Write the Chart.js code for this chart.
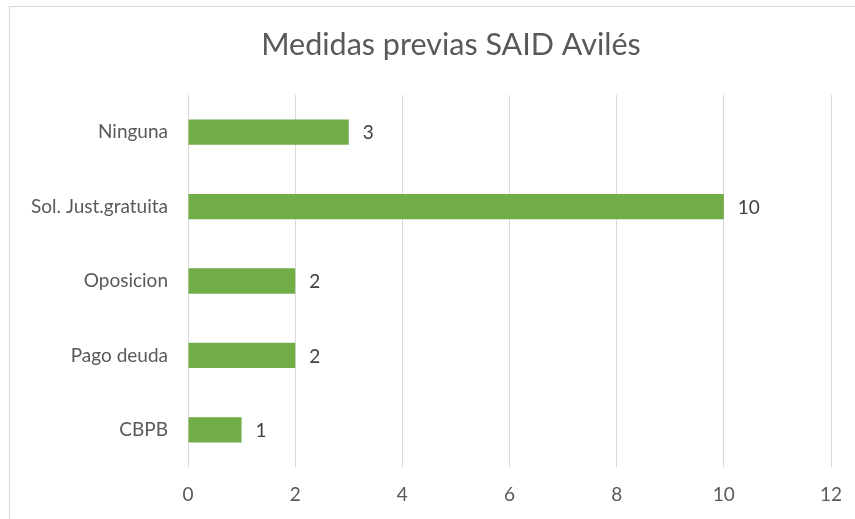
<!DOCTYPE html>
<html>
<head>
<meta charset="utf-8">
<script src="https://cdn.jsdelivr.net/npm/chart.js@4"></script>
<style>
  html, body { margin: 0; padding: 0; background: #fff; overflow: hidden; }
  #wrap { position: relative; width: 855px; height: 519px; }
  #frame { position: absolute; left: 9px; top: 6px; width: 900px; height: 600px; border: 1px solid #d9d9d9; box-sizing: border-box; }
  canvas { position: absolute; left: 0; top: 0; }
</style>
</head>
<body>
<div id="wrap">
  <div id="frame"></div>
  <canvas id="c" width="855" height="519"></canvas>
</div>
<script>
const titleText = "Medidas previas SAID Avilés";
const categories = ["Ninguna", "Sol. Just.gratuita", "Oposicion", "Pago deuda", "CBPB"];
const values = [3, 10, 2, 2, 1];
const xTicks = [0, 2, 4, 6, 8, 10, 12];

const FONT = "Lato, 'Open Sans', sans-serif";

const valueLabels = {
  id: 'valueLabels',
  afterDatasetsDraw(chart) {
    const ctx = chart.ctx;
    const meta = chart.getDatasetMeta(0);
    ctx.save();
    ctx.font = "19px " + FONT;
    ctx.fillStyle = "#404040";
    ctx.textAlign = "left";
    ctx.textBaseline = "middle";
    meta.data.forEach((bar, i) => {
      ctx.fillText(String(values[i]), bar.x + 14, bar.y + 1);
    });
    ctx.restore();
  }
};

const chartTitle = {
  id: 'chartTitle',
  afterDraw(chart) {
    const ctx = chart.ctx;
    ctx.save();
    ctx.font = "30.5px " + FONT;
    ctx.fillStyle = "#595959";
    ctx.textAlign = "center";
    ctx.textBaseline = "middle";
    ctx.fillText(titleText, 451, 45);
    ctx.restore();
  }
};

new Chart(document.getElementById('c'), {
  type: 'bar',
  data: {
    labels: categories,
    datasets: [{
      data: values,
      backgroundColor: '#70AD47',
      borderWidth: 0,
      categoryPercentage: 1,
      barPercentage: 0.34
    }]
  },
  plugins: [valueLabels, chartTitle],
  options: {
    indexAxis: 'y',
    responsive: false,
    animation: false,
    layout: { padding: { left: 0, right: 0, top: 95, bottom: 0 } },
    plugins: {
      legend: { display: false },
      tooltip: { enabled: false },
      title: { display: false }
    },
    scales: {
      x: {
        min: 0,
        max: 12,
        afterBuildTicks(scale) { scale.ticks = xTicks.map(v => ({ value: v })); },
        afterFit(scale) { scale.height = 52; scale.paddingRight = 24; scale.paddingLeft = 0; },
        grid: { color: '#d9d9d9', drawTicks: false },
        border: { display: false },
        ticks: { color: '#595959', font: { family: FONT, size: 19 }, padding: 16 }
      },
      y: {
        afterFit(scale) { scale.width = 188; },
        grid: { display: false, drawTicks: false },
        border: { display: false },
        ticks: { color: '#595959', font: { family: FONT, size: 19 }, padding: 20 }
      }
    }
  }
});
</script>
</body>
</html>
